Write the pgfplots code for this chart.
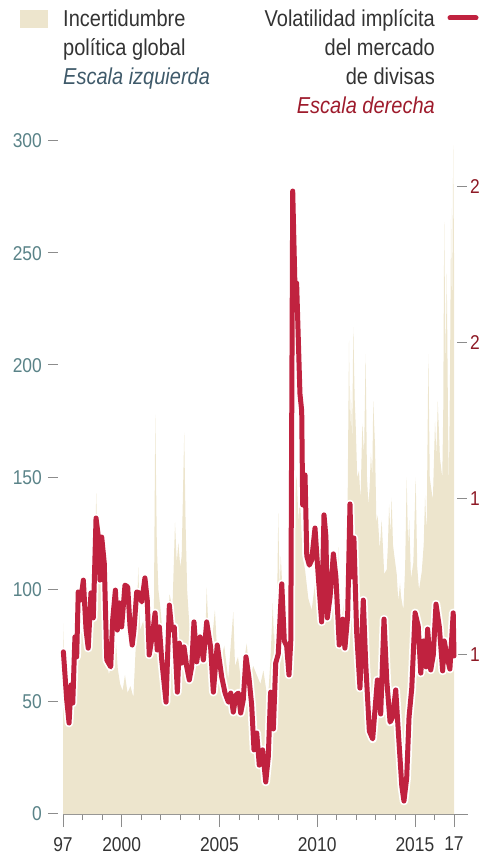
\documentclass[border=0pt]{standalone}
\usepackage{pgfplots}
\pgfplotsset{compat=1.18}
\usepackage{pgfplotstable}
\usepackage{fontspec}
\setmainfont{Liberation Sans}[FakeStretch=0.87]
\definecolor{beige}{HTML}{EDE5CD}
\definecolor{fxred}{HTML}{C0223F}
\definecolor{lefttick}{HTML}{5A8388}
\definecolor{righttick}{HTML}{8E1A26}
\definecolor{tickgray}{HTML}{8C8C8C}
\definecolor{txt}{HTML}{333333}
\definecolor{izq}{HTML}{3F5A6A}
\definecolor{der}{HTML}{9E1B2C}

\pgfplotstableread{
year val
1997.00 85
1997.08 62
1997.20 55
1997.32 50
1997.45 79
1997.55 70
1997.70 85
1997.80 101
1997.92 90
1998.05 95
1998.20 80
1998.35 95
1998.50 100
1998.62 110
1998.70 143
1998.78 115
1998.90 105
1999.05 100
1999.20 72
1999.35 62
1999.50 70
1999.65 85
1999.80 65
1999.92 58
2000.05 55
2000.17 62
2000.30 54
2000.45 57
2000.60 52
2000.75 80
2000.85 110
2000.95 82
2001.10 86
2001.30 75
2001.50 85
2001.65 90
2001.72 178
2001.80 120
2001.88 100
2001.98 92
2002.10 80
2002.25 64
2002.45 98
2002.60 92
2002.73 130
2002.82 112
2002.90 121
2003.00 110
2003.07 115
2003.13 140
2003.20 170
2003.27 130
2003.35 100
2003.48 82
2003.60 68
2003.75 74
2003.90 70
2004.00 78
2004.15 70
2004.30 85
2004.35 101
2004.45 80
2004.60 75
2004.77 91
2004.90 70
2005.05 68
2005.25 75
2005.45 60
2005.62 80
2005.71 90
2005.80 66
2005.95 70
2006.10 60
2006.25 68
2006.40 76
2006.55 60
2006.73 66
2006.91 62
2007.10 58
2007.25 64
2007.40 55
2007.49 52
2007.62 70
2007.73 94
2007.80 75
2007.85 83
2007.94 85
2008.01 134
2008.08 100
2008.14 115
2008.27 92
2008.44 83
2008.55 80
2008.65 90
2008.75 115
2008.85 140
2008.95 151
2009.05 130
2009.12 143
2009.25 115
2009.38 109
2009.55 96
2009.72 91
2009.85 100
2009.98 109
2010.08 95
2010.15 106
2010.28 100
2010.40 121
2010.57 96
2010.66 105
2010.74 115
2010.85 95
2010.96 86
2011.08 119
2011.17 81
2011.30 90
2011.42 96
2011.55 130
2011.63 211
2011.68 170
2011.73 189
2011.79 165
2011.85 217
2011.92 185
2011.97 174
2012.05 150
2012.14 153
2012.22 140
2012.31 174
2012.40 160
2012.48 205
2012.55 150
2012.62 138
2012.68 145
2012.75 161
2012.82 150
2012.87 184
2012.96 164
2013.03 130
2013.10 133
2013.20 118
2013.30 131
2013.43 107
2013.56 109
2013.62 120
2013.68 138
2013.75 125
2013.81 141
2013.88 120
2013.95 115
2014.07 107
2014.15 95
2014.24 103
2014.29 97
2014.41 91
2014.50 110
2014.58 150
2014.65 120
2014.71 131
2014.80 105
2014.92 112
2015.04 150
2015.12 110
2015.21 100
2015.35 108
2015.45 120
2015.52 142
2015.60 125
2015.69 205
2015.76 150
2015.82 146
2015.92 140
2016.03 175
2016.10 160
2016.17 184
2016.28 159
2016.40 150
2016.45 180
2016.50 264
2016.57 200
2016.63 241
2016.70 170
2016.74 146
2016.80 200
2016.85 270
2016.90 220
2016.96 298
2017.00 250
}\uncert

\pgfplotstableread{
year val
1997.02 10.10
1997.19 8.56
1997.31 7.82
1997.41 9.04
1997.50 8.46
1997.61 10.58
1997.70 9.94
1997.78 12.02
1997.91 11.76
1998.04 12.40
1998.18 10.80
1998.29 10.22
1998.43 11.99
1998.55 11.19
1998.69 14.39
1998.81 13.78
1998.89 12.40
1998.98 13.78
1999.11 12.95
1999.24 9.84
1999.44 9.62
1999.54 11.12
1999.68 12.08
1999.78 10.80
1999.88 11.67
2000.00 10.90
2000.17 12.24
2000.31 12.18
2000.43 10.90
2000.54 10.32
2000.63 10.80
2000.77 12.02
2000.90 11.99
2001.03 11.70
2001.19 12.47
2001.31 11.76
2001.41 10.00
2001.59 10.71
2001.71 11.35
2001.82 10.16
2001.93 10.90
2002.05 9.84
2002.27 8.49
2002.44 11.60
2002.56 10.80
2002.69 10.90
2002.85 8.81
2002.95 10.38
2003.07 9.74
2003.19 10.26
2003.33 9.62
2003.46 9.20
2003.58 9.62
2003.70 11.06
2003.84 9.78
2004.01 10.58
2004.18 9.84
2004.35 11.06
2004.55 10.26
2004.69 8.81
2004.89 10.32
2005.12 9.29
2005.29 8.78
2005.46 8.49
2005.58 8.78
2005.71 8.17
2005.85 8.72
2005.97 8.78
2006.09 8.14
2006.22 8.56
2006.36 9.94
2006.51 9.29
2006.65 8.40
2006.77 6.96
2006.91 7.50
2007.04 6.47
2007.21 6.96
2007.37 5.93
2007.50 6.73
2007.62 8.81
2007.76 7.63
2007.88 9.74
2008.01 10.03
2008.19 12.28
2008.32 10.45
2008.44 10.29
2008.56 9.36
2008.65 10.45
2008.75 24.87
2008.87 21.67
2008.95 21.92
2009.12 18.37
2009.21 17.82
2009.26 14.81
2009.38 15.77
2009.47 13.17
2009.60 12.88
2009.72 13.04
2009.89 14.07
2010.06 12.50
2010.23 11.06
2010.35 14.49
2010.45 13.78
2010.52 11.19
2010.66 11.86
2010.83 13.24
2010.96 12.50
2011.13 10.32
2011.31 11.15
2011.42 10.22
2011.56 11.25
2011.68 14.84
2011.77 12.50
2011.88 13.75
2012.02 10.74
2012.19 8.94
2012.36 11.76
2012.48 9.78
2012.67 7.56
2012.84 7.31
2013.08 9.20
2013.25 8.11
2013.42 11.15
2013.56 9.20
2013.73 7.85
2013.86 8.01
2014.02 8.88
2014.15 7.56
2014.33 5.80
2014.44 5.32
2014.58 6.06
2014.70 8.01
2014.84 8.94
2015.01 11.35
2015.17 10.93
2015.30 9.42
2015.43 10.45
2015.57 9.62
2015.65 10.83
2015.81 9.52
2015.94 10.00
2016.08 11.63
2016.25 10.90
2016.42 9.49
2016.50 10.45
2016.66 9.90
2016.79 9.55
2016.96 11.35
2017.00 9.97
}\fxvol

\newcommand{\lbl}{\fontsize{23}{29}\selectfont}
\newcommand{\tkf}{\fontsize{20}{24}\selectfont}
\newcommand{\rtick}[1]{{\color{tickgray}\rule[7pt]{10pt}{0.8pt}}\hspace{3pt}#1}

\begin{document}
\begin{tikzpicture}
\path[use as bounding box] (0pt,0pt) rectangle (481pt,855pt);

% legend
\fill[beige] (20pt,827pt) rectangle (48pt,845pt);
\node[anchor=base west, inner sep=0pt, text=txt, font=\lbl] at (63pt,828pt) {Incertidumbre};
\node[anchor=base west, inner sep=0pt, text=txt, font=\lbl] at (63pt,799pt) {política global};
\node[anchor=base west, inner sep=0pt, text=izq, font=\lbl\itshape] at (63pt,770pt) {Escala izquierda};
\node[anchor=base east, inner sep=0pt, text=txt, font=\lbl] at (435pt,828pt) {Volatilidad implícita};
\node[anchor=base east, inner sep=0pt, text=txt, font=\lbl] at (435pt,799pt) {del mercado};
\node[anchor=base east, inner sep=0pt, text=txt, font=\lbl] at (435pt,770pt) {de divisas};
\node[anchor=base east, inner sep=0pt, text=der, font=\lbl\itshape] at (435pt,741pt) {Escala derecha};
\draw[fxred, line width=5pt, line cap=round] (450pt,837pt) -- (476pt,837pt);

\begin{axis}[
  at={(63pt,41pt)}, anchor=south west,
  scale only axis, width=391pt, height=673pt,
  xmin=1997, xmax=2017, ymin=0, ymax=300,
  axis x line*=bottom, axis y line*=left,
  y axis line style={draw=none},
  x axis line style={draw=tickgray, line width=0.8pt, -, shorten >=-14pt},
  xtick={1997,2000,2005,2010,2015,2017},
  xticklabels={97,2000,2005,2010,2015,17},
  minor xtick={1998,1999,2001,2002,2003,2004,2006,2007,2008,2009,2011,2012,2013,2014,2016},
  tick align=outside,
  major tick length=13pt, minor tick length=6pt,
  xtick style={draw=tickgray, line width=0.8pt},
  minor x tick style={draw=tickgray, line width=0.8pt},
  ytick={0,50,100,150,200,250,300},
  ytick style={draw=none},
  /pgf/number format/assume math mode=true,
  yticklabel={\pgfmathprintnumber{\tick}\hspace{6pt}{\color{tickgray}\rule[7pt]{10pt}{0.8pt}}},
  yticklabel style={anchor=east, inner sep=0pt, xshift=8pt, text=lefttick, font=\tkf},
  xticklabel style={anchor=north, inner sep=0pt, yshift=-10pt, text=txt, font=\tkf},
  clip=false,
]
\addplot[fill=beige, draw=none] table[x=year, y=val] {\uncert} \closedcycle;
\end{axis}

\begin{axis}[
  at={(63pt,41pt)}, anchor=south west,
  scale only axis, width=391pt, height=673pt,
  xmin=1997, xmax=2017, ymin=4.904, ymax=26.474,
  axis x line=none, axis y line*=right,
  y axis line style={draw=none},
  ytick={10,15,20,25},
  yticklabels={\rtick{1},\rtick{1},\rtick{2},\rtick{2}},
  ytick style={draw=none},
  yticklabel style={anchor=west, inner sep=0pt, xshift=3pt, text=righttick, font=\tkf},
  clip=false,
]
\addplot[white, line width=8.5pt, line join=round, line cap=round] table[x=year, y=val] {\fxvol};
\addplot[fxred, line width=5pt, line join=round, line cap=round] table[x=year, y=val] {\fxvol};
\end{axis}
\end{tikzpicture}
\end{document}
